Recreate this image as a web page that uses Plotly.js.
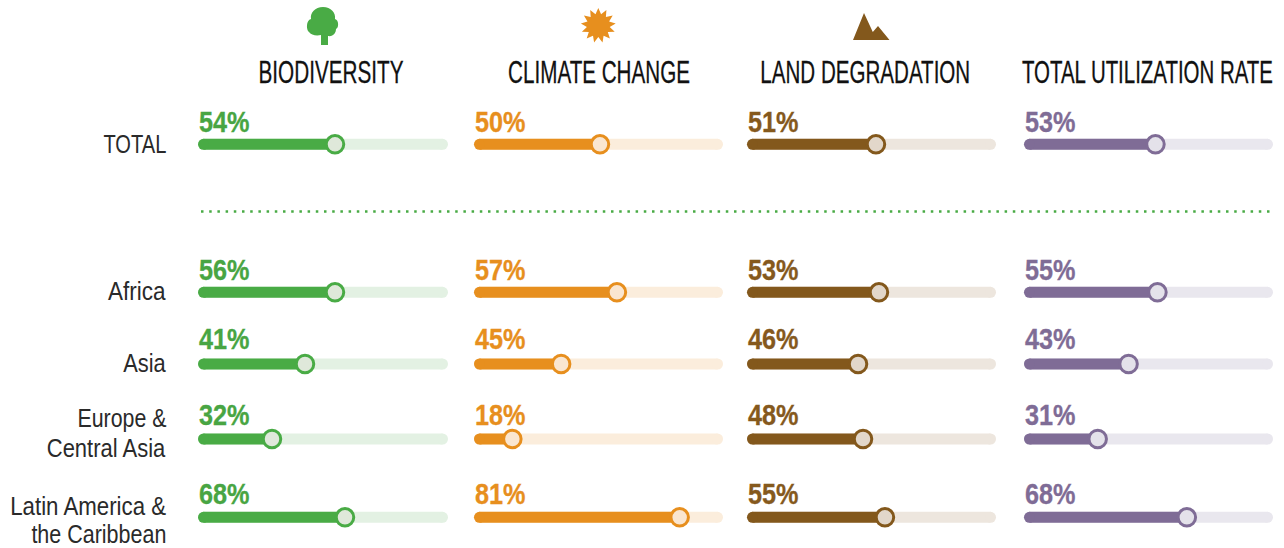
<!DOCTYPE html>
<html><head><meta charset="utf-8">
<script src="https://cdn.plot.ly/plotly-3.0.1.min.js"></script>
<style>html,body{margin:0;padding:0;background:#fff;overflow:hidden}</style></head>
<body><div id="chart" style="width:1284px;height:548px"></div>
<script>
const regions = ['TOTAL','Africa','Asia','Europe &<br>Central Asia','Latin America &<br>the Caribbean'];
const regionWidths = [[63],[58],[43],[89,119],[156,135]];
const themes = ['BIODIVERSITY','CLIMATE CHANGE','LAND DEGRADATION','TOTAL UTILIZATION RATE'];
// printed percentages
const biodiversity = [54,56,41,32,68];
const climate = [50,57,45,18,81];
const land = [51,53,46,48,55];
const utilization = [53,55,43,31,68];
// where the bar actually ends on its 0-100 track
const biodiversityBar = [54.8,54.8,42.8,29.6,58.8];
const climateBar = [50.6,57.4,35,15.4,82.6];
const landBar = [51.8,53,44.6,46.6,55.4];
const utilizationBar = [52.8,53.6,42,29.6,65.4];
const rowY = [144.3,292.3,364,439,517.3];
const labelY = [122,270,339,415,494];
const colors = ['#49ab45','#e78f1e','#83581c','#7f6c96'];
const tracks = ['#e3f1e3','#fbeddc','#ede6de','#e9e7ee'];
const knobs = ['#dfe8da','#fae6d0','#e2d7ca','#e4e2ea'];
const textColors = ['#48a543','#e78f1e','#85591d','#7f6c96'];
const colPix = [[198,448],[474,723],[747,996],[1024,1273]];
const headerPix = [[258,403],[508,690],[760,970],[1022,1273]];
const values = [biodiversity,climate,land,utilization];
const bars = [biodiversityBar,climateBar,landBar,utilizationBar];
const W=1284,H=548;
const capPct=2.2;
const layout={width:W,height:H,margin:{l:0,r:0,t:0,b:0},paper_bgcolor:'#fff',plot_bgcolor:'rgba(0,0,0,0)',showlegend:false,
 yaxis:{domain:[0,1],range:[H,0],visible:false,fixedrange:true},
 xaxis5:{domain:[0,1],range:[0,W],visible:false,anchor:'y'},
 annotations:[],shapes:[]};
const traces=[];
const N='"Liberation Sans Narrow","Liberation Sans",sans-serif';
const fit=[];
function note(x,y,text,size,color,anchor,bold,width,f,stroke){
 layout.annotations.push({xref:'x5',yref:'y',x,y,text:bold?'<b>'+text+'</b>':text,showarrow:false,xanchor:anchor,yanchor:'middle',
  font:{family:N,size,color},align:anchor,borderpad:0,borderwidth:0});
 fit.push({width,f,anchor,stroke,color});
}
themes.forEach((t,c)=>{
 const ax=c===0?'':String(c+1);
 layout['xaxis'+ax]={domain:[colPix[c][0]/W,colPix[c][1]/W],range:[0,100],visible:false,anchor:'y'};
 const xa='x'+ax;
 rowY.forEach((y,r)=>{
  traces.push({x:[capPct,100-capPct],y:[y,y],xaxis:xa,yaxis:'y',mode:'lines+markers',cliponaxis:false,hoverinfo:'skip',
   line:{color:tracks[c],width:11},marker:{size:11,color:tracks[c],line:{width:0}}});
  traces.push({x:[capPct,bars[c][r]],y:[y,y],xaxis:xa,yaxis:'y',mode:'lines+markers',cliponaxis:false,hoverinfo:'skip',
   line:{color:colors[c],width:11},marker:{size:11,color:colors[c],line:{width:0}}});
  traces.push({x:[bars[c][r]],y:[y],xaxis:xa,yaxis:'y',mode:'markers',cliponaxis:false,hoverinfo:'skip',
   marker:{size:17.5,color:knobs[c],line:{color:colors[c],width:3}}});
  note(colPix[c][0]+0.5,labelY[r],values[c][r]+'%',29,textColors[c],'left',true,null,0.87,0.3);
 });
 const hp=headerPix[c];
 note((hp[0]+hp[1])/2,72,t,32,'#111','center',false,hp[1]-hp[0],null,0.3);
});
regions.forEach((t,r)=>{
 const lines=t.split('<br>');
 lines.forEach((l,i)=>{
  const y=lines.length===1?rowY[r]-(r===0?0:1):[[418,448],[506,534]][r-3][i];
  note(165.5,y,l,26,'#2a2a2a','right',false,regionWidths[r][i]);
 });
});
traces.push({x:[201,1275],y:[211.5,211.5],xaxis:'x5',yaxis:'y',mode:'lines',hoverinfo:'skip',line:{color:'#49ab45',width:2.5,dash:'2.5px,5.7px'}});
// icons
const treePath='M321 45 L328 45 L328 36 C333 37 336 33 336 29 C339 28 339 20 335 19 C336 13 331 7 323 7 C315 7 310 13 311 19 C306 20 306 30 309 32 C311 35 316 36 321 35 Z';
let sun='M';
for(let i=0;i<26;i++){const a=i*Math.PI/13,rad=i%2?11.5:17.5;sun+=(i?' L':'')+(598.3+rad*Math.sin(a)).toFixed(1)+' '+(25.5-rad*Math.cos(a)).toFixed(1);}
sun+=' Z';
const mtn='M864 13 L872.8 32 L878 26 L889.5 40 L853 40 Z';
[[treePath,colors[0]],[sun,colors[1]],[mtn,colors[2]]].forEach(([p,col])=>layout.shapes.push({type:'path',path:p,xref:'x5',yref:'y',fillcolor:col,line:{width:0},layer:'above'}));
Plotly.newPlot('chart',traces,layout,{displayModeBar:false,staticPlot:true}).then(()=>{
 document.querySelectorAll('.annotation-text').forEach((el,i)=>{
  const b=el.getBBox();
  const s=fit[i].width?fit[i].width/b.width:fit[i].f;
  const a=fit[i].anchor;
  const cx=a==='left'?b.x:a==='right'?b.x+b.width:b.x+b.width/2;
  el.setAttribute('transform','translate('+cx+',0) scale('+s.toFixed(4)+',1) translate('+(-cx)+',0)');
  if(fit[i].stroke){el.style.stroke=fit[i].color;el.style.strokeWidth=fit[i].stroke+'px';}
 });
});
</script></body></html>
